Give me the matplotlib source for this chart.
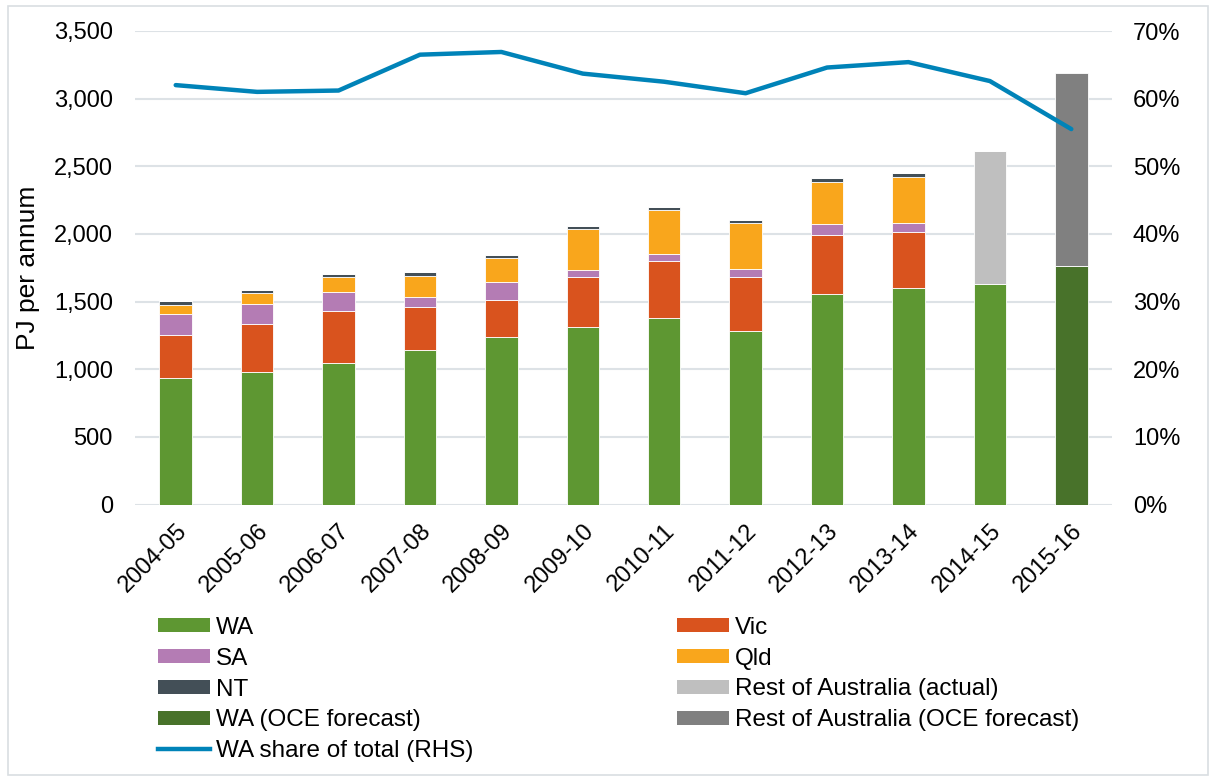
import matplotlib
matplotlib.use("Agg")
import matplotlib.pyplot as plt
import numpy as np
from matplotlib.patches import Patch, Rectangle
from matplotlib.lines import Line2D
from matplotlib.ticker import FuncFormatter, MultipleLocator

plt.rcParams['font.family'] = ['Liberation Sans', 'DejaVu Sans']

years = ["2004-05", "2005-06", "2006-07", "2007-08", "2008-09", "2009-10",
         "2010-11", "2011-12", "2012-13", "2013-14", "2014-15", "2015-16"]
wa = [936, 977, 1046, 1145, 1238, 1315, 1378, 1281, 1555, 1604, 1629, 0]
vic = [314, 357, 382, 313, 274, 364, 420, 402, 438, 411, 0, 0]
sa = [156, 146, 140, 73, 133, 57, 55, 56, 81, 67, 0, 0]
qld = [71, 86, 111, 160, 174, 297, 322, 340, 311, 337, 0, 0]
nt = [25, 22, 25, 25, 25, 25, 22, 25, 27, 29, 0, 0]
rest_actual = [0, 0, 0, 0, 0, 0, 0, 0, 0, 0, 982, 0]
wa_forecast = [0, 0, 0, 0, 0, 0, 0, 0, 0, 0, 0, 1762]
rest_forecast = [0, 0, 0, 0, 0, 0, 0, 0, 0, 0, 0, 1427]
wa_share = [62.0, 61.0, 61.2, 66.5, 66.9, 63.7, 62.5, 60.8, 64.6, 65.4, 62.6, 55.5]

c_wa = "#5E9732"
c_vic = "#D9531E"
c_sa = "#B47CB4"
c_qld = "#F9A61C"
c_nt = "#434F57"
c_ra = "#BFBFBF"
c_waf = "#48722A"
c_rf = "#808080"
c_line = "#0083B8"
c_grid = "#DDE2E6"

W, H = 1214, 778
fig = plt.figure(figsize=(W / 100, H / 100), dpi=100)
ax = fig.add_axes([135 / W, 1 - 504.5 / H, (1112 - 135) / W, (504.5 - 31) / H])

x = np.arange(len(years))
bw = 0.4
bottom = np.zeros(len(years))
stack = [(wa, c_wa), (wa_forecast, c_waf), (vic, c_vic), (sa, c_sa), (qld, c_qld),
         (nt, c_nt), (rest_actual, c_ra), (rest_forecast, c_rf)]
for s, c in stack:
    vals = np.array(s, dtype=float)
    ax.bar(x, vals, bw, bottom=bottom, color=c, edgecolor="white",
           linewidth=0.6, zorder=3)
    bottom += vals

ax.set_xlim(-0.5, 11.5)
ax.set_ylim(0, 3500)
ax.yaxis.set_major_locator(MultipleLocator(500))
ax.yaxis.set_major_formatter(FuncFormatter(lambda v, p: f"{int(v):,}"))
ax.grid(axis="y", color=c_grid, linewidth=1.5, zorder=0)
ax.set_axisbelow(True)
for sp in ax.spines.values():
    sp.set_visible(False)
ax.tick_params(axis="y", length=0, pad=16, labelsize=17)
ax.tick_params(axis="x", length=0, pad=11, labelsize=17)
ax.set_xticks(x)
ax.set_xticklabels(years, rotation=45, ha="right", rotation_mode="anchor")
ax.set_ylabel("PJ per annum", fontsize=19)
ax.yaxis.set_label_coords(-0.097, 0.5)

ax2 = ax.twinx()
ax2.plot(x, wa_share, color=c_line, linewidth=3.2, zorder=5, solid_capstyle="round")
ax2.set_ylim(0, 70)
ax2.yaxis.set_major_locator(MultipleLocator(10))
ax2.yaxis.set_major_formatter(FuncFormatter(lambda v, p: f"{int(v)}%"))
for sp in ax2.spines.values():
    sp.set_visible(False)
ax2.tick_params(axis="y", length=0, pad=15, labelsize=17)

def patch(c, l):
    return Patch(facecolor=c, edgecolor="none", label=l)

h1 = [patch(c_wa, "WA"), patch(c_sa, "SA"), patch(c_nt, "NT"), patch(c_waf, "WA (OCE forecast)"),
      Line2D([0], [0], color=c_line, linewidth=3.2, label="WA share of total (RHS)")]
h2 = [patch(c_vic, "Vic"), patch(c_qld, "Qld"), patch(c_ra, "Rest of Australia (actual)"),
      patch(c_rf, "Rest of Australia (OCE forecast)")]
kw = dict(loc="upper left", frameon=False, fontsize=17.5, handlelength=2.14, handleheight=0.5,
          handletextpad=0.25, labelspacing=0.36, borderpad=0, borderaxespad=0)
leg1 = fig.legend(handles=h1, bbox_to_anchor=(158 / W, 1 - 617 / H), **kw)
leg2 = fig.legend(handles=h2, bbox_to_anchor=(677 / W, 1 - 617 / H), **kw)

fig.patches.append(Rectangle((8 / W, 3 / H), (W - 14) / W, (H - 9) / H, transform=fig.transFigure,
                             fill=False, edgecolor="#D9DEE2", linewidth=1.2))

fig.savefig("out.png", dpi=100)
